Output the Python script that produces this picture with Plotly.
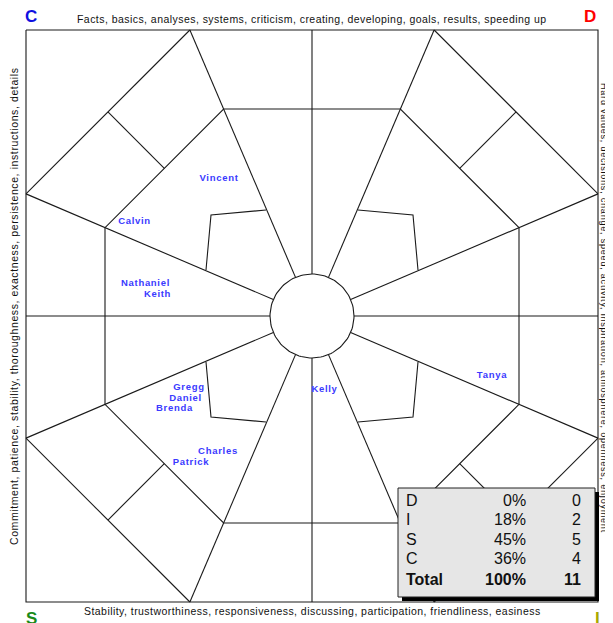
import numpy as np
import plotly.graph_objects as go

# ---------------- data ----------------
corner_letters = ["C", "D", "S", "I"]
corner_colors = ["#1010e0", "#ff0000", "#1a8a1a", "#a8a800"]

top_text = "Facts, basics, analyses, systems, criticism, creating, developing, goals, results, speeding up"
bottom_text = "Stability, trustworthiness, responsiveness, discussing, participation, friendliness, easiness"
left_text = "Commitment, patience, stability, thoroughness, exactness, persistence, instructions, details"
right_text = "Hard values, decisions, change, speed, activity, inspiration, atmosphere, openness, enjoyment"

names = ["Vincent", "Calvin", "Nathaniel", "Keith", "Gregg", "Daniel", "Brenda",
         "Kelly", "Tanya", "Charles", "Patrick"]
# placement of each name on the wheel (page-pixel-like wheel coordinates)
name_px = [219, 134.5, 145.5, 157.5, 189, 185.5, 174.5, 324.5, 492, 218, 191]
name_py = [179, 222, 284, 295, 388, 398.5, 409, 390, 376, 452, 463]

styles = ["D", "I", "S", "C"]
percents = [0, 18, 45, 36]
counts = [0, 2, 5, 4]
total_label = "Total"
total_percent = 100
total_count = 11

# ---------------- wheel geometry ----------------
PAGE_W, PAGE_H = 613, 623
OFF = 8                    # browser body margin
W, Hpx = PAGE_W - OFF, PAGE_H - OFF
CX, CY = 312, 316          # wheel centre
HALF = 286                 # half size of outer frame
K = 0.427                  # slope of the off-axis spokes
R_HUB = 42                 # hub circle radius
R_OCT = 207                # inner octagon half size
petal = [(106, 46), (101, 101), (46, 106)]

def P(dx, dy):
    return CX + dx, CY - dy

def spaced(s, ls):
    return f'<span style="letter-spacing:{ls}px">{s}</span>'

xs, ys = [], []
def seg(pts):
    for dx, dy in pts:
        x, y = P(dx, dy)
        xs.append(x); ys.append(y)
    xs.append(None); ys.append(None)

# outer frame
seg([(-HALF, HALF), (HALF, HALF), (HALF, -HALF), (-HALF, -HALF), (-HALF, HALF)])

# spokes
dirs = [(1, 0), (1, K), (K, 1), (0, 1), (-K, 1), (-1, K), (-1, 0), (-1, -K),
        (-K, -1), (0, -1), (K, -1), (1, -K)]
for ux, uy in dirs:
    n = np.hypot(ux, uy)
    seg([(R_HUB * ux / n, R_HUB * uy / n), (HALF * ux, HALF * uy)])

# corner diagonals, cross bars, petals
for sx in (1, -1):
    for sy in (1, -1):
        seg([(sx * K * HALF, sy * HALF), (sx * HALF, sy * K * HALF)])
        m1 = (1 + K) * HALF / 2
        m2 = (1 + K) * R_OCT / 2
        seg([(sx * m1, sy * m1), (sx * m2, sy * m2)])
        seg([(sx * px, sy * py) for px, py in petal])

# inner octagon
oct_pts = [(R_OCT, K * R_OCT), (K * R_OCT, R_OCT), (-K * R_OCT, R_OCT), (-R_OCT, K * R_OCT),
           (-R_OCT, -K * R_OCT), (-K * R_OCT, -R_OCT), (K * R_OCT, -R_OCT), (R_OCT, -K * R_OCT)]
seg(oct_pts + [oct_pts[0]])

# hub circle
t = np.linspace(0, 2 * np.pi, 121)
seg(list(zip(R_HUB * np.cos(t), R_HUB * np.sin(t))))

fig = go.Figure()
fig.add_trace(go.Scatter(x=xs, y=ys, mode="lines",
                         line=dict(color="#1a1a1a", width=1.1),
                         hoverinfo="skip", showlegend=False))

fig.add_trace(go.Scatter(x=name_px, y=name_py, mode="text",
                         text=[spaced(n, 0.7) for n in names],
                         textfont=dict(family="Arial, Liberation Sans", size=9.5,
                                       color="#3a3aff", weight="bold"),
                         textposition="middle center", hoverinfo="skip",
                         showlegend=False))

ann = []
corner_pos = [(31, 16), (590, 16), (31, 618), (597, 618)]
for (x, y), L, c in zip(corner_pos, corner_letters, corner_colors):
    ann.append(dict(x=x, y=y, text=f"<b>{L}</b>", showarrow=False,
                    font=dict(family="Arial", size=17, color=c),
                    xanchor="center", yanchor="middle"))

sf = dict(family="Arial", size=10.5, color="#111")
ann.append(dict(x=CX, y=19, text=spaced(top_text, 0.45), showarrow=False,
                font=sf, xanchor="center", yanchor="middle"))
ann.append(dict(x=CX, y=611, text=spaced(bottom_text, 0.45), showarrow=False,
                font=sf, xanchor="center", yanchor="middle"))
ann.append(dict(x=14, y=306, text=spaced(left_text, 0.6), showarrow=False, textangle=-90,
                font=sf, xanchor="center", yanchor="middle"))
ann.append(dict(x=604, y=308, text=spaced(right_text, 0.8), showarrow=False, textangle=90,
                font=dict(family="Arial", size=9, color="#111"), xanchor="center", yanchor="middle"))

# table
TL, TT, TR, TB = 398, 488, 595, 597
shapes = [
    dict(type="rect", x0=TL + 4, y0=TT + 4, x1=TR + 4, y1=TB + 4, fillcolor="black",
         line=dict(width=0), layer="above"),
    dict(type="rect", x0=TL, y0=TT, x1=TR, y1=TB, fillcolor="#e6e6e6",
         line=dict(color="#222", width=1), layer="above"),
]
row_y = [500, 519.5, 539, 558.5, 579]
tf = dict(family="Arial", size=16, color="#111")
for i, (s, p, c) in enumerate(zip(styles, percents, counts)):
    ann.append(dict(x=404, y=row_y[i], text=s, showarrow=False, font=tf, xanchor="left", yanchor="middle"))
    ann.append(dict(x=528, y=row_y[i], text=f"{p}%", showarrow=False, font=tf, xanchor="right", yanchor="middle"))
    ann.append(dict(x=583, y=row_y[i], text=str(c), showarrow=False, font=tf, xanchor="right", yanchor="middle"))
ann.append(dict(x=404, y=row_y[4], text=f"<b>{total_label}</b>", showarrow=False, font=tf, xanchor="left", yanchor="middle"))
ann.append(dict(x=528, y=row_y[4], text=f"<b>{total_percent}%</b>", showarrow=False, font=tf, xanchor="right", yanchor="middle"))
ann.append(dict(x=583, y=row_y[4], text=f"<b>{total_count}</b>", showarrow=False, font=tf, xanchor="right", yanchor="middle"))

fig.update_layout(
    width=W, height=Hpx, autosize=False,
    margin=dict(l=0, r=0, t=0, b=0),
    paper_bgcolor="white", plot_bgcolor="white",
    xaxis=dict(range=[OFF, PAGE_W], visible=False, fixedrange=True),
    yaxis=dict(range=[PAGE_H, OFF], visible=False, fixedrange=True),
    annotations=ann, shapes=shapes,
)
fig.write_html("out.html")
